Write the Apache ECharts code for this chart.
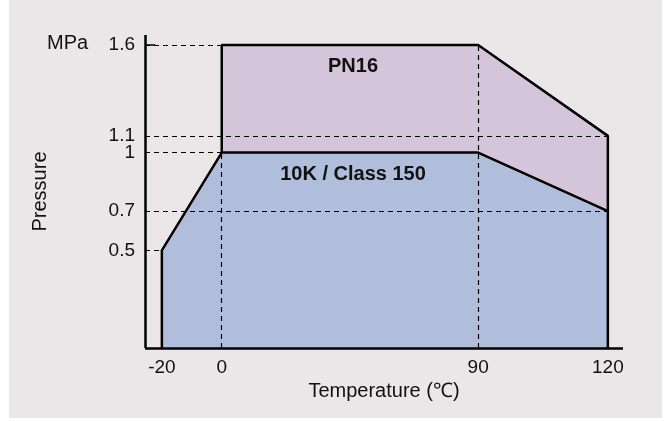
<!DOCTYPE html>
<html><head><meta charset="utf-8">
<script src="https://cdn.jsdelivr.net/npm/echarts@6/dist/echarts.min.js"></script>
<style>html,body{margin:0;padding:0;background:#fff}#c{width:671px;height:421px}</style>
</head><body><div id="c"></div>
<script>
// Data
const temperatures = [-20, 0, 90, 120];            // ℃
const classPressures = [0.5, 1.0, 1.0, 0.7];       // 10K / Class 150 (MPa)
const pn16Temps = [0, 90, 120];
const pn16Pressures = [1.6, 1.6, 1.1];             // PN16 (MPa)
const xTickLabels = [-20, 0, 90, 120];
const yTickLabels = [0.5, 0.7, 1, 1.1, 1.6];
const hGuideEnds = [-20, 120, 0, 120, 0];          // temperature where each pressure guide ends
const vGuideTemps = [0, 90];
const vGuideTops = [1.0, 1.6];

const X_MIN = -23.9, X_MAX = 123.5, Y_MIN = 0, Y_MAX = 1.651;
const FONT = '"Liberation Sans", Arial, Helvetica, sans-serif';

const classData = [[temperatures[0], 0]];
temperatures.forEach((t, i) => classData.push([t, classPressures[i]]));
classData.push([temperatures[temperatures.length - 1], 0]);

const pnData = [[pn16Temps[0], classPressures[1]]];
pn16Temps.forEach((t, i) => pnData.push([t, pn16Pressures[i]]));
pnData.push([pn16Temps[pn16Temps.length - 1], classPressures[classPressures.length - 1]]);

const guides = [];
yTickLabels.forEach((p, i) => guides.push([{ coord: [X_MIN, p] }, { coord: [hGuideEnds[i], p] }]));
vGuideTemps.forEach((t, i) => guides.push([{ coord: [t, 0] }, { coord: [t, vGuideTops[i]] }]));
// axis lines (solid)
const axisStyle = { type: 'solid', width: 2.5, color: '#000' };
guides.push([{ coord: [X_MIN, Y_MIN], lineStyle: axisStyle }, { coord: [X_MAX, Y_MIN] }]);
guides.push([{ coord: [X_MIN, Y_MIN], lineStyle: axisStyle }, { coord: [X_MIN, Y_MAX] }]);
// short tick at top value
guides.push([{ coord: [X_MIN, 1.6], lineStyle: { type: 'solid', width: 1.5, color: '#000' } }, { coord: [-21.5, 1.6] }]);

const chart = echarts.init(document.getElementById('c'), null, { renderer: 'canvas' });
chart.setOption({
  backgroundColor: '#ffffff',
  animation: false,
  textStyle: { fontFamily: FONT },
  graphic: [
    { type: 'rect', z: -10, shape: { x: 9, y: 0, width: 653, height: 418 }, style: { fill: '#ebe7e9' } },
    { type: 'text', z: 10, style: { text: 'MPa', x: 47, y: 43, fontSize: 20, fontFamily: FONT, fill: '#111', verticalAlign: 'middle' } },
    { type: 'text', z: 10, style: { text: 'PN16', x: 353, y: 66, fontSize: 20, fontWeight: 'bold', fontFamily: FONT, fill: '#111', align: 'center', verticalAlign: 'middle' } },
    { type: 'text', z: 10, style: { text: '10K / Class 150', x: 353, y: 174, fontSize: 20, fontWeight: 'bold', fontFamily: FONT, fill: '#111', align: 'center', verticalAlign: 'middle' } }
  ],
  grid: { left: 145, right: 48, top: 35, bottom: 73, containLabel: false },
  xAxis: {
    type: 'value', min: X_MIN, max: X_MAX,
    breaks: [{ start: -15, end: -5, gap: 3.85 }, { start: 20, end: 70, gap: 19.3 }],
    breakArea: { show: false },
    name: 'Temperature (℃)', nameLocation: 'middle', nameGap: 30,
    nameTextStyle: { fontSize: 20, color: '#111', fontFamily: FONT },
    axisLine: { show: false },
    axisTick: { show: false },
    splitLine: { show: false },
    axisLabel: { customValues: xTickLabels, fontSize: 19, color: '#111', margin: 10, fontFamily: FONT }
  },
  yAxis: {
    type: 'value', min: Y_MIN, max: Y_MAX,
    breaks: [{ start: 1.03, end: 1.07, gap: 0.0254 }, { start: 1.2, end: 1.5, gap: 0.2652 }],
    breakArea: { show: false },
    name: 'Pressure', nameLocation: 'middle', nameGap: 95, nameRotate: 90,
    nameTextStyle: { fontSize: 20, color: '#111', fontFamily: FONT },
    axisLine: { show: false },
    axisTick: { show: false },
    splitLine: { show: false },
    axisLabel: { customValues: yTickLabels, fontSize: 19, color: '#111', margin: 10, fontFamily: FONT }
  },
  series: [
    {
      name: 'PN16', type: 'line', data: pnData, showSymbol: false, z: 2,
      lineStyle: { color: '#000', width: 2.5 },
      areaStyle: { color: '#d5c5da', opacity: 1 }
    },
    {
      name: '10K / Class 150', type: 'line', data: classData, showSymbol: false, z: 3,
      lineStyle: { color: '#000', width: 2.5 },
      areaStyle: { color: '#b0bedc', opacity: 1 },
      markLine: {
        silent: true, symbol: 'none', animation: false,
        label: { show: false },
        lineStyle: { color: '#000', width: 1.2, type: [5, 4] },
        data: guides
      }
    }
  ]
});
</script>
</body></html>
